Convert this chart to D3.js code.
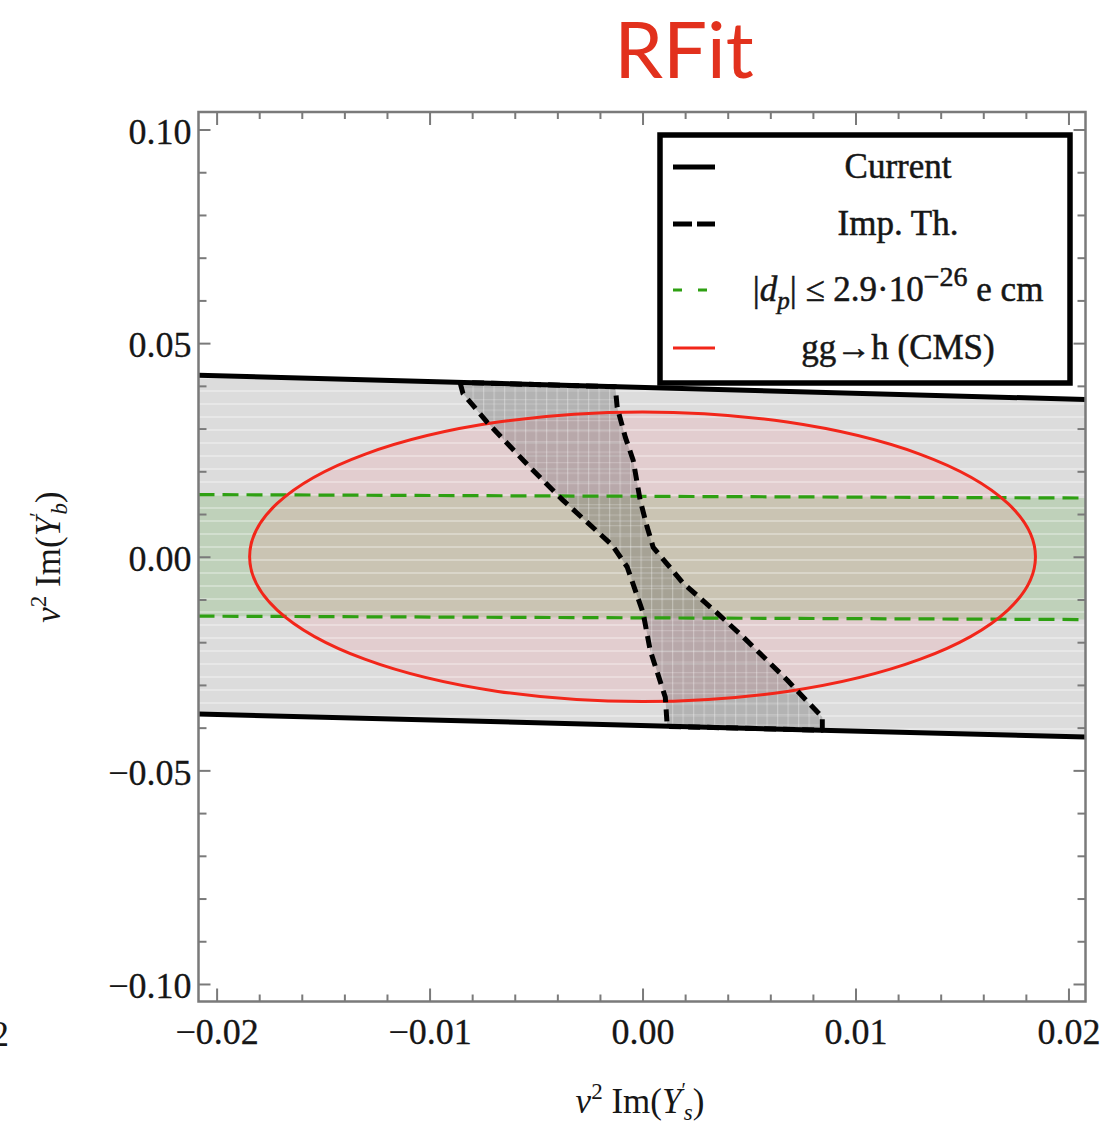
<!DOCTYPE html>
<html>
<head>
<meta charset="utf-8">
<script src="https://cdn.jsdelivr.net/npm/d3@7"></script>
<style>
  body { margin: 0; background: #fff; }
  svg { display: block; }
</style>
</head>
<body>
<svg id="chart" width="1113" height="1127"></svg>
<script>
// ---- axes ----
const xDomain = [-0.02085, 0.0208];
const yDomain = [-0.1041, 0.1041];
const xTicks = [-0.02, -0.01, 0, 0.01, 0.02];
const xTickLabels = ["\u22120.02", "\u22120.01", "0.00", "0.01", "0.02"];
const xMinorTicks = [-0.018, -0.016, -0.014, -0.012, -0.008, -0.006, -0.004, -0.002,
                     0.002, 0.004, 0.006, 0.008, 0.012, 0.014, 0.016, 0.018];
const yTicks = [-0.10, -0.05, 0, 0.05, 0.10];
const yTickLabels = ["\u22120.10", "\u22120.05", "0.00", "0.05", "0.10"];
const yMinorTicks = [-0.09, -0.08, -0.07, -0.06, -0.04, -0.03, -0.02, -0.01,
                     0.01, 0.02, 0.03, 0.04, 0.06, 0.07, 0.08, 0.09];

// ---- "Current" allowed band (edges at the plot borders) ----
const currentUpper = [[-0.02085, 0.0425], [0.0208, 0.0368]];
const currentLower = [[-0.02085, -0.0368], [0.0208, -0.0422]];

// ---- proton EDM bound |d_p| <= 2.9e-26 e cm ----
const edmUpper = [[-0.02085, 0.01455], [0.0208, 0.01375]];
const edmLower = [[-0.02085, -0.0139], [0.0208, -0.0147]];

// ---- gg -> h (CMS) ellipse ----
const cmsCenter = [0.0, 0.0];
const cmsRadii = [0.01845, 0.0339];

// ---- improved theory region: left and right boundaries, top to bottom ----
const impLeft = [
  [-0.00857, 0.0408], [-0.00843, 0.0382], [-0.00730, 0.0315], [-0.00528, 0.0209],
  [-0.00373, 0.0132], [-0.00142, 0.0027], [-0.00072, -0.0024], [0.00003, -0.0132],
  [0.00036, -0.0219], [0.00107, -0.0329], [0.00116, -0.0397]
];
const impRight = [
  [-0.00128, 0.0398], [-0.00119, 0.0350], [-0.00081, 0.0280], [-0.00044, 0.0226],
  [-0.00011, 0.0132], [0.00022, 0.0069], [0.00050, 0.0022], [0.00191, -0.0062],
  [0.00351, -0.0132], [0.00473, -0.0188], [0.00680, -0.0289], [0.00755, -0.0329],
  [0.00844, -0.0375], [0.00844, -0.0406]
];

// ---- legend ----
const legendLabels = ["Current", "Imp. Th.", "dp", "gg\u2192h (CMS)"];

// ---------------------------------------------------------------
const svg = d3.select("#chart");
const plot = { left: 198.5, right: 1085.5, top: 112, bottom: 1001.5 };
const x = d3.scaleLinear().domain(xDomain).range([plot.left, plot.right]);
const y = d3.scaleLinear().domain(yDomain).range([plot.bottom, plot.top]);
const line = d3.line().x(d => x(d[0])).y(d => y(d[1]));
const serif = "'Liberation Serif', 'Times New Roman', serif";
const ink = "#161616";

const defs = svg.append("defs");
defs.append("clipPath").attr("id", "plotClip")
  .append("rect").attr("x", plot.left).attr("y", plot.top)
  .attr("width", plot.right - plot.left).attr("height", plot.bottom - plot.top);

const bandPoly = currentUpper.concat(currentLower.slice().reverse());
const edmPoly = edmUpper.concat(edmLower.slice().reverse());
const impPoly = impLeft.concat(impRight.slice().reverse());

defs.append("clipPath").attr("id", "bandClip")
  .append("path").attr("d", line(bandPoly) + "Z");
defs.append("clipPath").attr("id", "impClip")
  .append("path").attr("d", line(impPoly) + "Z");

// horizontal shading stripes of the filled band
const stripes = defs.append("pattern").attr("id", "stripes")
  .attr("patternUnits", "userSpaceOnUse").attr("width", 40).attr("height", 13);
stripes.append("rect").attr("x", 0).attr("y", 0).attr("width", 40).attr("height", 2)
  .attr("fill", "#fff").attr("opacity", 0.3);

// mesh inside the improved-theory region
const mesh = defs.append("pattern").attr("id", "mesh")
  .attr("patternUnits", "userSpaceOnUse").attr("width", 10.5).attr("height", 10.5);
mesh.append("rect").attr("x", 0).attr("y", 0).attr("width", 1.2).attr("height", 10.5)
  .attr("fill", "#fff").attr("opacity", 0.3);
mesh.append("rect").attr("x", 0).attr("y", 0).attr("width", 10.5).attr("height", 1.2)
  .attr("fill", "#fff").attr("opacity", 0.2);

const g = svg.append("g").attr("clip-path", "url(#plotClip)");

// Current band fill
g.append("path").attr("d", line(bandPoly) + "Z").attr("fill", "#dcdcdc");

// EDM band fill
g.append("path").attr("d", line(edmPoly) + "Z").attr("fill", "rgba(90,175,70,0.22)");

// CMS ellipse fill
g.append("ellipse")
  .attr("cx", x(cmsCenter[0])).attr("cy", y(cmsCenter[1]))
  .attr("rx", x(cmsCenter[0] + cmsRadii[0]) - x(cmsCenter[0]))
  .attr("ry", y(cmsCenter[1]) - y(cmsCenter[1] + cmsRadii[1]))
  .attr("fill", "rgba(255,140,150,0.18)");

// band stripes
g.append("rect").attr("x", plot.left).attr("y", plot.top)
  .attr("width", plot.right - plot.left).attr("height", plot.bottom - plot.top)
  .attr("fill", "url(#stripes)").attr("clip-path", "url(#bandClip)");

// improved theory fill + mesh
g.append("path").attr("d", line(impPoly) + "Z").attr("fill", "rgba(70,70,70,0.27)");
g.append("rect").attr("x", plot.left).attr("y", plot.top)
  .attr("width", plot.right - plot.left).attr("height", plot.bottom - plot.top)
  .attr("fill", "url(#mesh)").attr("clip-path", "url(#impClip)");

// EDM dashed boundaries
[edmUpper, edmLower].forEach(l => {
  g.append("path").attr("d", line(l)).attr("fill", "none")
    .attr("stroke", "#2ea012").attr("stroke-width", 3.2)
    .attr("stroke-dasharray", "16,8");
});

// CMS ellipse outline
g.append("ellipse")
  .attr("cx", x(cmsCenter[0])).attr("cy", y(cmsCenter[1]))
  .attr("rx", x(cmsCenter[0] + cmsRadii[0]) - x(cmsCenter[0]))
  .attr("ry", y(cmsCenter[1]) - y(cmsCenter[1] + cmsRadii[1]))
  .attr("fill", "none").attr("stroke", "#f2261a").attr("stroke-width", 3);

// Current boundaries
[currentUpper, currentLower].forEach(l => {
  g.append("path").attr("d", line(l)).attr("fill", "none")
    .attr("stroke", "#000").attr("stroke-width", 5);
});

// improved theory dashed outline
g.append("path").attr("d", line(impPoly) + "Z").attr("fill", "none")
  .attr("stroke", "#000").attr("stroke-width", 5)
  .attr("stroke-dasharray", "12,7").attr("stroke-linejoin", "round");

// ---- frame and ticks ----
const axisColor = "#7a7a7a";
function styleAxis(sel) {
  sel.select(".domain").remove();
  sel.selectAll(".tick line").attr("stroke", axisColor).attr("stroke-width", 2);
  sel.selectAll(".tick text").attr("font-family", serif).attr("font-size", 36)
    .attr("fill", ink).attr("stroke", ink).attr("stroke-width", 0.3);
}
const axes = svg.append("g");
const bottomAxis = axes.append("g").attr("transform", `translate(0,${plot.bottom})`)
  .call(d3.axisBottom(x).tickValues(xTicks).tickSize(-13).tickPadding(17)
    .tickFormat((d, i) => xTickLabels[i])).call(styleAxis);
bottomAxis.selectAll(".tick text").attr("dy", "0.71em");
axes.append("g").attr("transform", `translate(0,${plot.bottom})`)
  .call(d3.axisBottom(x).tickValues(xMinorTicks).tickSize(-7).tickFormat("")).call(styleAxis);
axes.append("g").attr("transform", `translate(0,${plot.top})`)
  .call(d3.axisTop(x).tickValues(xTicks).tickSize(-13).tickFormat("")).call(styleAxis);
axes.append("g").attr("transform", `translate(0,${plot.top})`)
  .call(d3.axisTop(x).tickValues(xMinorTicks).tickSize(-7).tickFormat("")).call(styleAxis);
const leftAxis = axes.append("g").attr("transform", `translate(${plot.left},0)`)
  .call(d3.axisLeft(y).tickValues(yTicks).tickSize(-12).tickPadding(7)
    .tickFormat((d, i) => yTickLabels[i])).call(styleAxis);
leftAxis.selectAll(".tick text").attr("dy", "0.38em");
axes.append("g").attr("transform", `translate(${plot.left},0)`)
  .call(d3.axisLeft(y).tickValues(yMinorTicks).tickSize(-8).tickFormat("")).call(styleAxis);
axes.append("g").attr("transform", `translate(${plot.right},0)`)
  .call(d3.axisRight(y).tickValues(yTicks).tickSize(-12).tickFormat("")).call(styleAxis);
axes.append("g").attr("transform", `translate(${plot.right},0)`)
  .call(d3.axisRight(y).tickValues(yMinorTicks).tickSize(-8).tickFormat("")).call(styleAxis);

svg.append("rect").attr("x", plot.left).attr("y", plot.top)
  .attr("width", plot.right - plot.left).attr("height", plot.bottom - plot.top)
  .attr("fill", "none").attr("stroke", axisColor).attr("stroke-width", 2.5);

// neighbouring panel's tick label showing at the left border
svg.append("text").attr("x", 9).attr("y", 1046).attr("text-anchor", "end")
  .attr("font-family", serif).attr("font-size", 36).attr("fill", ink).text("0.02");

// ---- axis titles ----
function axisTitle(sel, sub) {
  sel.attr("font-family", serif).attr("font-size", 35).attr("fill", ink);
  sel.append("tspan").attr("font-style", "italic").text("v");
  sel.append("tspan").attr("font-size", 23).attr("dy", -14).text("2");
  sel.append("tspan").attr("dy", 14).text(" Im(");
  sel.append("tspan").attr("font-style", "italic").text("Y");
  sel.append("tspan").attr("font-size", 20).attr("dy", -16).text("\u2032");
  sel.append("tspan").attr("font-size", 23).attr("font-style", "italic").attr("dy", 23).attr("dx", -2).text(sub);
  sel.append("tspan").attr("dy", -7).text(")");
}
svg.append("text").attr("x", 640).attr("y", 1113).attr("text-anchor", "middle")
  .call(axisTitle, "s");
svg.append("text").attr("transform", "translate(60,557) rotate(-90)")
  .attr("text-anchor", "middle").call(axisTitle, "b");

// ---- title ----
svg.append("text").attr("x", 684).attr("y", 78).attr("text-anchor", "middle")
  .attr("font-family", "Lato, 'Open Sans', sans-serif").attr("font-size", 78)
  .attr("fill", "#e2311d").text("RFit");

// ---- legend ----
const lg = svg.append("g");
lg.append("rect").attr("x", 660).attr("y", 135).attr("width", 410).attr("height", 248)
  .attr("fill", "#fff").attr("stroke", "#000").attr("stroke-width", 5.5);
const rowY = [167, 224, 290, 348];
const sampleStyles = [
  { stroke: "#000", width: 5, dash: null },
  { stroke: "#000", width: 5, dash: "19,5" },
  { stroke: "#2ea012", width: 3, dash: "9,16" },
  { stroke: "#f2261a", width: 3, dash: null }
];
sampleStyles.forEach((s, i) => {
  const l = lg.append("line").attr("x1", 673).attr("x2", 715)
    .attr("y1", rowY[i]).attr("y2", rowY[i])
    .attr("stroke", s.stroke).attr("stroke-width", s.width);
  if (s.dash) l.attr("stroke-dasharray", s.dash);
});
legendLabels.forEach((t, i) => {
  const tx = lg.append("text").attr("x", 898).attr("y", rowY[i] + 11)
    .attr("text-anchor", "middle").attr("font-family", serif)
    .attr("font-size", 35).attr("fill", ink).attr("stroke", ink).attr("stroke-width", 0.5);
  if (t === "dp") {
    tx.append("tspan").text("|");
    tx.append("tspan").attr("font-style", "italic").text("d");
    tx.append("tspan").attr("font-style", "italic").attr("font-size", 25).attr("dy", 8).text("p");
    tx.append("tspan").attr("dy", -8).text("| \u2264 2.9\u00b710");
    tx.append("tspan").attr("font-size", 28).attr("dy", -15).text("\u221226");
    tx.append("tspan").attr("dy", 15).text(" e cm");
  } else {
    tx.text(t);
  }
});
</script>
</body>
</html>
